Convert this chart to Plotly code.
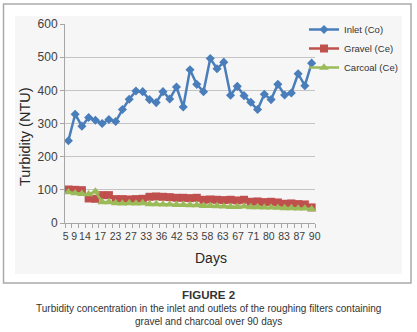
import numpy as np
import plotly.graph_objects as go

# ---- data ----
x_labels = ["5", "9", "14", "17", "23", "27", "33", "36", "42", "53",
            "58", "63", "67", "71", "80", "83", "87", "90"]
inlet = [248, 328, 292, 318, 310, 300, 312, 306, 342, 373, 398, 396, 372,
         363, 396, 374, 410, 350, 462, 418, 396, 496, 465, 485, 385, 412,
         384, 364, 342, 388, 372, 418, 386, 392, 450, 414, 482]
gravel = [101, 100, 99, 74, 73, 84, 84, 72, 72, 71, 72, 73, 79, 80, 79, 78,
          76, 76, 75, 76, 70, 71, 70, 69, 70, 68, 70, 64, 65, 63, 64, 62,
          58, 59, 57, 56, 47]
charcoal = [93, 90, 88, 87, 95, 63, 63, 60, 59, 60, 59, 60, 57, 57, 56, 56,
            55, 55, 54, 54, 52, 52, 51, 50, 49, 49, 50, 48, 48, 47, 47, 46,
            45, 45, 44, 44, 42]
series_names = ["Inlet (Co)", "Gravel (Ce)", "Carcoal (Ce)"]
y_ticks = [0, 100, 200, 300, 400, 500, 600]

idx = list(range(len(inlet)))
FONT = "Liberation Sans, Arial, sans-serif"
BLUE, RED, GREEN = "#4A7EBB", "#C0504D", "#9BBB59"

fig = go.Figure()
fig.add_trace(go.Scatter(x=idx, y=inlet, name=series_names[0], mode="lines+markers",
                         line=dict(color=BLUE, width=2.5),
                         marker=dict(symbol="diamond", size=7, color=BLUE),
                         cliponaxis=False, legendgroup="a"))
fig.add_trace(go.Scatter(x=idx, y=gravel, name=series_names[1], mode="lines+markers",
                         line=dict(color=RED, width=2.5),
                         marker=dict(symbol="square", size=8, color=RED),
                         cliponaxis=False, legendgroup="b"))
fig.add_trace(go.Scatter(x=idx, y=charcoal, name=series_names[2], mode="lines+markers",
                         line=dict(color=GREEN, width=2.5),
                         marker=dict(symbol="triangle-up", size=8.5, color=GREEN),
                         cliponaxis=False, legendgroup="c"))

# label slots along the category axis
tickpos = [-0.4, 0.85] + list(np.linspace(2.45, 36.45, len(x_labels) - 2))

W, H = 417, 332
L, R, T, B = 65, 102, 24, 109
pw, ph = W - L - R, H - T - B
def px(xp):
    return (xp - L) / pw
def py(yp):
    return (H - B - yp) / ph

fig.update_layout(
    width=W, height=H,
    margin=dict(l=L, r=R, t=T, b=B, pad=0, autoexpand=False),
    paper_bgcolor="white",
    plot_bgcolor="#F6F6F6",
    font=dict(family=FONT, color="#404040"),
    showlegend=True,
    legend=dict(x=px(304), y=py(15), xanchor="left", yanchor="top",
                font=dict(size=9.5, family=FONT, color="#333333"),
                bgcolor="rgba(0,0,0,0)", tracegroupgap=0,
                traceorder="grouped", itemwidth=30),
    xaxis=dict(range=[-0.5, len(inlet) - 0.5], tickmode="array",
               tickvals=tickpos, ticktext=x_labels, tickangle=0,
               automargin=False,
               ticks="outside", ticklen=3, tickcolor="rgba(0,0,0,0)",
               tickfont=dict(size=10.5, color="#404040"),
               showgrid=False, zeroline=False,
               showline=True, linecolor="#A6A6A6", linewidth=1,
               minor=dict(tick0=-0.5, dtick=1, ticks="outside", ticklen=3.5,
                          tickcolor="#A6A6A6", showgrid=False),
               fixedrange=True),
    yaxis=dict(range=[0, 600], tickmode="array", tickvals=y_ticks,
               automargin=False,
               ticks="outside", ticklen=4, tickcolor="#A6A6A6",
               tickfont=dict(size=12, color="#404040"),
               showgrid=True, gridcolor="#C4C4C4", gridwidth=1,
               zeroline=False, showline=True, linecolor="#A6A6A6",
               linewidth=1, fixedrange=True),
    shapes=[
        dict(type="rect", xref="paper", yref="paper", layer="below",
             x0=px(15), x1=px(402), y0=py(274), y1=py(16),
             fillcolor="#F6F6F6", line=dict(width=0)),
        dict(type="rect", xref="paper", yref="paper", layer="below",
             x0=px(3.5), x1=px(411), y0=py(283), y1=py(4),
             fillcolor="rgba(0,0,0,0)", line=dict(color="#AAAAAA", width=1.5)),
    ],
    annotations=[
        dict(text="Turbidity (NTU)", textangle=-90, xref="paper", yref="paper",
             x=px(25), y=py(137), xanchor="center", yanchor="middle",
             showarrow=False, font=dict(size=14.5, color="#262626")),
        dict(text="Days", xref="paper", yref="paper",
             x=px(211), y=py(258), xanchor="center", yanchor="middle",
             showarrow=False, font=dict(size=14, color="#262626")),
        dict(text="<b>FIGURE 2</b>", xref="paper", yref="paper",
             x=px(208), y=py(295), xanchor="center", yanchor="middle",
             showarrow=False, font=dict(size=11.5, color="#333333")),
        dict(text="Turbidity concentration in the inlet and outlets of the roughing filters containing",
             xref="paper", yref="paper", x=px(208), y=py(308),
             xanchor="center", yanchor="middle",
             showarrow=False, font=dict(size=10, color="#333333")),
        dict(text="gravel and charcoal over 90 days",
             xref="paper", yref="paper", x=px(208), y=py(321),
             xanchor="center", yanchor="middle",
             showarrow=False, font=dict(size=10, color="#333333")),
    ],
)

fig.write_html("out.html", config={"displayModeBar": False},
               post_script="document.body.style.margin='0px';document.body.style.overflow='hidden';")
